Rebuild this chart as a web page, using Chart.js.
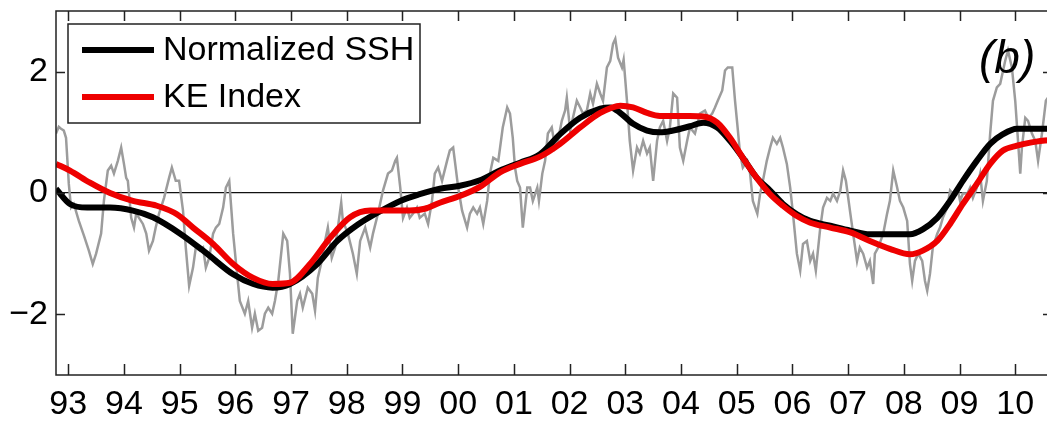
<!DOCTYPE html>
<html>
<head>
<meta charset="utf-8">
<script src="https://cdn.jsdelivr.net/npm/chart.js@4/dist/chart.umd.min.js"></script>
<style>
  html, body { margin: 0; padding: 0; background: #fff; overflow: hidden; }
  #wrap { width: 1056px; height: 422px; }
</style>
</head>
<body>
<div id="wrap"><canvas id="c" width="1056" height="422"></canvas></div>
<script>
// ---------- data ----------
const xTickYears = [1993,1994,1995,1996,1997,1998,1999,2000,2001,2002,2003,2004,2005,2006,2007,2008,2009,2010];
const xTickLabels = ['93','94','95','96','97','98','99','00','01','02','03','04','05','06','07','08','09','10'];
const yTickValues = [-2, 0, 2];
const yTickLabels = ['\u22122', '0', '2'];
const panelLabel = '(b)';

// raw (unsmoothed) SSH index, grey
const rawYears = [1992.78,1992.83,1992.87,1992.92,1992.96,1993.01,1993.05,1993.10,1993.19,1993.28,1993.37,1993.44,1993.50,1993.59,1993.64,1993.71,1993.77,1993.82,1993.89,1993.95,
1994.00,1994.04,1994.07,1994.13,1994.18,1994.22,1994.27,1994.34,1994.40,1994.45,1994.52,1994.57,1994.63,1994.72,1994.81,1994.86,1994.93,1994.99,
1995.06,1995.11,1995.17,1995.24,1995.29,1995.36,1995.42,1995.47,1995.53,1995.60,1995.65,1995.71,1995.78,1995.83,1995.89,1995.96,
1996.03,1996.08,1996.17,1996.23,1996.30,1996.35,1996.41,1996.48,1996.53,1996.59,1996.66,1996.71,1996.77,1996.86,1996.93,1996.98,
1997.03,1997.11,1997.16,1997.21,1997.30,1997.38,1997.43,1997.48,1997.55,1997.61,1997.66,1997.73,1997.79,1997.84,1997.90,1997.93,
1998.02,1998.11,1998.18,1998.24,1998.33,1998.42,1998.47,1998.56,1998.65,1998.74,1998.81,1998.87,1998.90,1998.96,
1999.01,1999.08,1999.13,1999.19,1999.26,1999.31,1999.40,1999.46,1999.53,1999.58,1999.64,1999.71,1999.80,1999.85,1999.91,1999.94,
2000.00,2000.07,2000.16,2000.21,2000.27,2000.34,2000.39,2000.45,2000.52,2000.57,2000.63,2000.72,2000.80,2000.88,2000.93,2000.98,
2001.02,2001.06,2001.11,2001.16,2001.24,2001.29,2001.34,2001.42,2001.45,2001.51,2001.56,2001.61,2001.68,2001.74,2001.79,2001.86,2001.92,2001.95,
2002.01,2002.06,2002.13,2002.19,2002.24,2002.31,2002.37,2002.42,2002.49,2002.55,2002.60,2002.67,2002.73,2002.78,2002.82,2002.87,2002.94,2002.97,
2003.03,2003.08,2003.14,2003.21,2003.26,2003.32,2003.39,2003.44,2003.50,2003.57,2003.62,2003.68,2003.75,2003.80,2003.86,2003.93,2003.98,
2004.04,2004.11,2004.16,2004.25,2004.34,2004.43,2004.49,2004.56,2004.61,2004.66,2004.74,2004.79,2004.84,2004.92,2004.97,
2005.01,2005.06,2005.11,2005.19,2005.24,2005.29,2005.37,2005.42,2005.47,2005.54,2005.60,2005.65,2005.72,2005.78,2005.83,2005.90,2005.96,
2006.01,2006.08,2006.14,2006.19,2006.26,2006.32,2006.37,2006.42,2006.50,2006.55,2006.62,2006.68,2006.73,2006.80,2006.86,2006.91,2006.96,
2007.04,2007.09,2007.16,2007.21,2007.27,2007.34,2007.39,2007.45,2007.48,2007.54,2007.63,2007.70,2007.75,2007.81,2007.88,2007.93,2007.99,
2008.06,2008.11,2008.15,2008.20,2008.26,2008.33,2008.38,2008.42,2008.47,2008.52,2008.60,2008.65,2008.70,2008.78,2008.83,2008.88,2008.96,
2009.01,2009.06,2009.14,2009.19,2009.24,2009.31,2009.37,2009.42,2009.49,2009.55,2009.60,2009.67,2009.73,2009.82,2009.87,2009.94,
2010.00,2010.05,2010.09,2010.12,2010.18,2010.23,2010.30,2010.36,2010.41,2010.48,2010.55,2010.63];
const rawValues = [0.98,1.09,1.06,1.03,0.91,0.15,-0.24,-0.18,-0.46,-0.70,-0.95,-1.17,-1.00,-0.67,-0.13,0.37,0.45,0.32,0.53,0.75,
0.48,0.25,0.20,-0.41,-0.57,-0.34,-0.41,-0.51,-0.67,-0.95,-0.79,-0.57,-0.34,-0.08,0.25,0.42,0.20,0.20,
-0.29,-0.90,-1.53,-1.23,-0.90,-0.95,-0.90,-1.23,-1.07,-0.67,-0.57,-0.51,-0.24,0.09,0.20,-0.67,
-1.33,-1.78,-1.99,-1.78,-2.22,-1.99,-2.27,-2.22,-1.99,-1.89,-1.99,-1.78,-1.45,-0.67,-0.79,-1.33,
-2.32,-1.78,-1.66,-1.89,-1.56,-1.66,-1.94,-1.40,-1.12,-0.79,-0.57,-1.07,-0.90,-0.57,-0.16,-0.46,
-0.67,-1.00,-1.33,-0.79,-0.57,-0.90,-0.67,-0.34,0.04,0.32,0.37,0.53,0.58,0.09,
-0.41,-0.24,-0.41,-0.34,-0.24,-0.41,-0.34,-0.51,-0.13,0.32,0.42,0.20,0.53,0.70,0.75,0.53,
0.09,-0.29,-0.57,-0.34,-0.24,-0.34,-0.24,-0.51,-0.13,0.32,0.58,0.53,1.08,1.41,1.31,0.91,
0.42,0.20,0.09,-0.57,0.09,0.09,-0.13,0.09,-0.13,0.32,0.53,0.98,1.08,0.75,0.86,1.19,1.36,1.57,
1.03,1.24,1.52,1.41,1.31,1.36,1.64,1.47,1.80,1.64,1.52,2.07,2.18,2.46,2.54,2.23,2.07,2.20,
1.52,0.86,0.37,0.75,0.65,0.86,0.65,0.75,0.20,0.86,1.08,1.19,0.86,1.08,1.64,1.57,0.75,
0.53,0.86,1.08,0.98,1.31,1.36,1.24,1.31,1.41,1.52,1.69,2.02,2.07,2.07,1.52,
1.14,0.65,0.42,0.53,0.32,-0.13,-0.34,-0.01,0.20,0.53,0.75,0.91,0.81,0.91,0.75,0.48,0.09,
-0.34,-1.00,-1.28,-0.84,-0.79,-1.12,-1.00,-1.28,-0.57,-0.24,-0.08,-0.13,-0.01,-0.13,0.04,0.37,0.20,
-0.34,-0.67,-1.12,-0.90,-1.00,-1.23,-1.12,-1.50,-1.00,-0.90,-0.67,-0.34,-0.13,0.37,0.09,-0.13,-0.24,
-0.46,-1.17,-1.45,-1.12,-1.00,-1.12,-1.45,-1.61,-1.33,-0.90,-0.67,-0.57,-0.41,-0.24,0.04,-0.01,0.09,
-0.13,-0.01,-0.01,0.09,-0.08,0.09,0.32,-0.13,0.20,0.98,1.52,1.74,1.80,2.18,2.35,2.07,
1.52,0.86,0.32,0.75,1.24,1.19,0.98,0.86,0.53,0.98,1.52,1.63];

// smoothed normalized SSH (black)
const sshYears = [1992.78,1993.03,1993.34,1993.75,1994.16,1994.52,1995.01,1995.49,1995.96,1996.32,1996.67,1996.98,1997.47,1997.83,1998.20,1998.60,1998.96,1999.31,1999.67,2000.03,2000.39,2000.75,2001.11,2001.47,2001.83,2002.19,2002.55,2002.73,2002.91,2003.14,2003.39,2003.62,2003.86,2004.16,2004.40,2004.65,2004.88,2005.11,2005.36,2005.60,2005.83,2006.08,2006.32,2006.68,2007.04,2007.39,2007.75,2008.11,2008.34,2008.60,2008.83,2009.06,2009.31,2009.55,2009.78,2010.03,2010.27,2010.66];
const sshValues = [0.07,-0.18,-0.24,-0.24,-0.29,-0.40,-0.67,-1.00,-1.34,-1.50,-1.56,-1.50,-1.17,-0.79,-0.52,-0.30,-0.13,-0.02,0.07,0.12,0.21,0.37,0.50,0.64,0.97,1.24,1.39,1.41,1.32,1.14,1.03,1.00,1.03,1.10,1.16,1.08,0.86,0.58,0.25,0.04,-0.18,-0.35,-0.46,-0.54,-0.62,-0.68,-0.68,-0.68,-0.60,-0.41,-0.13,0.20,0.53,0.81,0.97,1.06,1.06,1.06];

// KE index (red)
const keYears = [1992.78,1993.03,1993.39,1993.75,1994.16,1994.59,1994.95,1995.24,1995.60,1995.96,1996.32,1996.67,1996.98,1997.34,1997.70,1998.06,1998.42,1998.78,1999.13,1999.40,1999.67,2000.03,2000.39,2000.75,2001.11,2001.47,2001.83,2002.19,2002.55,2002.91,2003.14,2003.39,2003.62,2003.86,2004.16,2004.40,2004.65,2004.88,2005.11,2005.36,2005.60,2005.83,2006.08,2006.32,2006.68,2007.04,2007.39,2007.75,2008.11,2008.34,2008.60,2008.83,2009.06,2009.31,2009.55,2009.78,2010.03,2010.27,2010.66];
const keValues = [0.48,0.37,0.17,0.00,-0.13,-0.21,-0.35,-0.57,-0.84,-1.17,-1.40,-1.50,-1.48,-1.17,-0.74,-0.40,-0.29,-0.29,-0.29,-0.26,-0.16,-0.05,0.10,0.34,0.48,0.60,0.81,1.08,1.32,1.44,1.41,1.32,1.27,1.27,1.27,1.26,1.16,0.91,0.58,0.25,-0.02,-0.21,-0.38,-0.49,-0.57,-0.65,-0.79,-0.92,-1.01,-0.95,-0.79,-0.51,-0.18,0.15,0.48,0.70,0.78,0.83,0.88];

const sshLabel = 'Normalized SSH';
const keLabel = 'KE Index';

// ---------- chart ----------
const FONT = "'Liberation Sans', Arial, Helvetica, sans-serif";
const pts = (xs, ys) => xs.map((x, i) => ({ x: x, y: ys[i] }));

const framePlugin = {
  id: 'frame',
  afterDatasetsDraw(chart) {
    const { ctx, chartArea: a, scales } = chart;
    ctx.save();
    ctx.strokeStyle = '#222';
    ctx.lineWidth = 1.5;
    ctx.strokeRect(a.left, a.top, a.right - a.left, a.bottom - a.top);
    ctx.beginPath();
    scales.x.ticks.forEach(t => {
      const px = Math.round(scales.x.getPixelForValue(t.value)) + 0.5;
      ctx.moveTo(px, a.bottom); ctx.lineTo(px, a.bottom - 11);
      ctx.moveTo(px, a.top); ctx.lineTo(px, a.top + 10);
    });
    scales.y.ticks.forEach(t => {
      const py = Math.round(scales.y.getPixelForValue(t.value)) + 0.5;
      ctx.moveTo(a.left, py); ctx.lineTo(a.left + 9, py);
      ctx.moveTo(a.right, py); ctx.lineTo(a.right - 9, py);
    });
    ctx.stroke();

    // legend box
    const bx = 68, by = 24, bw = 352, bh = 99;
    ctx.fillStyle = '#fff';
    ctx.fillRect(bx, by, bw, bh);
    ctx.strokeStyle = '#222';
    ctx.lineWidth = 1.5;
    ctx.strokeRect(bx, by, bw, bh);
    const items = [chart.data.datasets[1], chart.data.datasets[0]];
    const rows = [50, 97];
    ctx.font = '34px ' + FONT;
    ctx.textBaseline = 'middle';
    ctx.textAlign = 'left';
    items.forEach((ds, i) => {
      ctx.strokeStyle = ds.borderColor;
      ctx.lineWidth = 6;
      ctx.beginPath();
      ctx.moveTo(82, rows[i]); ctx.lineTo(154, rows[i]);
      ctx.stroke();
      ctx.fillStyle = '#000';
      ctx.fillText(ds.label, 163, rows[i] + 1);
    });

    // panel label
    ctx.font = 'italic 46px ' + FONT;
    ctx.textBaseline = 'alphabetic';
    ctx.fillStyle = '#000';
    ctx.fillText(panelLabel, 979, 73);
    ctx.restore();
  }
};

new Chart(document.getElementById('c'), {
  type: 'line',
  data: {
    datasets: [
      { label: keLabel, data: pts(keYears, keValues), borderColor: '#ee0000', borderWidth: 6,
        pointRadius: 0, tension: 0.4, cubicInterpolationMode: 'monotone', fill: false, order: 0 },
      { label: sshLabel, data: pts(sshYears, sshValues), borderColor: '#000000', borderWidth: 6,
        pointRadius: 0, tension: 0.4, cubicInterpolationMode: 'monotone', fill: false, order: 1 },
      { label: 'raw', data: pts(rawYears, rawValues), borderColor: '#9c9c9c', borderWidth: 2.5,
        pointRadius: 0, tension: 0, fill: false, order: 2 }
    ]
  },
  options: {
    responsive: false,
    animation: false,
    devicePixelRatio: 1,
    layout: { padding: { top: 11, right: 4, left: 0, bottom: 0 } },
    plugins: { legend: { display: false }, tooltip: { enabled: false } },
    scales: {
      x: {
        type: 'linear', min: 1992.78, max: 2010.66,
        afterBuildTicks: s => { s.ticks = xTickYears.map(v => ({ value: v })); },
        afterFit: s => { s.height = 47; s.paddingLeft = 0; s.paddingRight = 0; },
        grid: { display: false, drawTicks: false },
        border: { display: false },
        ticks: {
          padding: 9, color: '#000', font: { family: FONT, size: 34 }, maxRotation: 0, autoSkip: false,
          callback: (v) => { const i = xTickYears.indexOf(Math.round(v)); return i >= 0 ? xTickLabels[i] : ''; }
        }
      },
      y: {
        type: 'linear', min: -3, max: 3,
        afterBuildTicks: s => { s.ticks = yTickValues.map(v => ({ value: v })); },
        afterFit: s => { s.width = 56; s.paddingTop = 0; s.paddingBottom = 0; },
        grid: { drawTicks: false, lineWidth: 1.2,
          color: c => (c.tick && c.tick.value === 0) ? '#111' : 'rgba(0,0,0,0)' },
        border: { display: false },
        ticks: {
          padding: 8, color: '#000', font: { family: FONT, size: 34 },
          callback: (v) => { const i = yTickValues.indexOf(v); return i >= 0 ? yTickLabels[i] : ''; }
        }
      }
    }
  },
  plugins: [framePlugin]
});
</script>
</body>
</html>
